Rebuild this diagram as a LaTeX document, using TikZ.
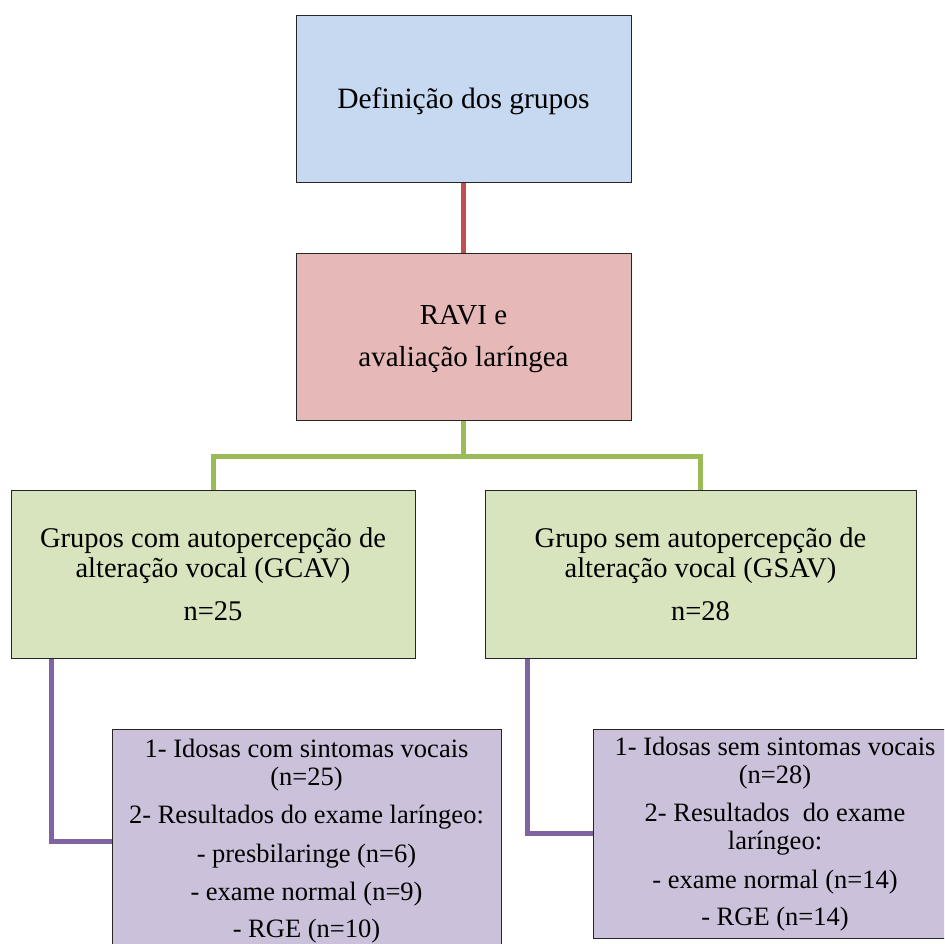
\documentclass[tikz,border=0pt]{standalone}
\usepackage{fontspec}
\setmainfont{Liberation Serif}
\newfontfamily\tnr{Liberation Serif}
\usetikzlibrary{backgrounds}
\definecolor{bluefill}{HTML}{C6D9F1}
\definecolor{redfill}{HTML}{E6B9B8}
\definecolor{greenfill}{HTML}{D7E4BD}
\definecolor{purplefill}{HTML}{CCC1DA}
\definecolor{redline}{HTML}{C0504D}
\definecolor{greenline}{HTML}{9BBB59}
\definecolor{purpleline}{HTML}{8064A2}
\tikzset{
  box/.style={draw=black!85, line width=0.9pt, rectangle, align=center, inner sep=0pt},
  topbox/.style={box, fill=bluefill, minimum width=335pt, minimum height=167pt,
     font=\tnr\fontsize{29.5}{32}\selectfont},
  ravibox/.style={box, fill=redfill, minimum width=335pt, minimum height=167pt,
     font=\tnr\fontsize{29}{31}\selectfont},
  grpbox/.style={box, fill=greenfill, minimum height=168pt,
     font=\tnr\fontsize{28.5}{30}\selectfont},
  resbox/.style={box, fill=purplefill, anchor=north,
     font=\tnr\fontsize{26.5}{28}\selectfont},
  redconn/.style={draw=redline, line width=5pt},
  greenconn/.style={draw=greenline, line width=5pt, line join=miter},
  purpleconn/.style={draw=purpleline, line width=5pt, line join=miter},
}
\begin{document}
\begin{tikzpicture}[x=1pt,y=-1pt]
\clip (0,0) rectangle (944,944);

\node[topbox] (def) at (463.5,98.5) {\rule{0pt}{25.5pt}Definição dos grupos};
\node[ravibox] (ravi) at (463.5,336.5) {\rule{0pt}{25pt}RAVI e\\[11pt]avaliação laríngea};
\node[grpbox, minimum width=404pt] (gcav) at (213,574)
  {Grupos com autopercepção de\\alteração vocal (GCAV)\\[13pt]n=25};
\node[grpbox, minimum width=431pt] (gsav) at (700.5,574)
  {Grupo sem autopercepção de\\alteração vocal (GSAV)\\[13pt]n=28};
\node[resbox, minimum width=389pt, minimum height=224pt] (rl) at (306.5,729)
  {1- Idosas com sintomas vocais\\(n=25)\\[10pt]2- Resultados do exame laríngeo:\\[11pt]- presbilaringe (n=6)\\[10pt]- exame normal (n=9)\\[9pt]- RGE (n=10)};
\node[resbox, minimum width=364pt, minimum height=209pt] (rr) at (775,729)
  {1- Idosas sem sintomas vocais\\(n=28)\\[10pt]2- Resultados~ do exame\\laríngeo:\\[11pt]- exame normal (n=14)\\[9pt]- RGE (n=14)};

\coordinate (gj) at (463.5,456);

\begin{scope}[on background layer]
\fill[white] (0,0) rectangle (944,944);
\draw[redconn] (def.south) -- (ravi.north);
\draw[greenconn] (ravi.south) -- (gj);
\draw[greenconn] (gcav.north) |- (gj) -| (gsav.north);
\draw[purpleconn] ([xshift=41pt]gcav.south west) |- (rl.west);
\draw[purpleconn] ([xshift=43pt]gsav.south west) |- (rr.west);
\end{scope}
\end{tikzpicture}
\end{document}
